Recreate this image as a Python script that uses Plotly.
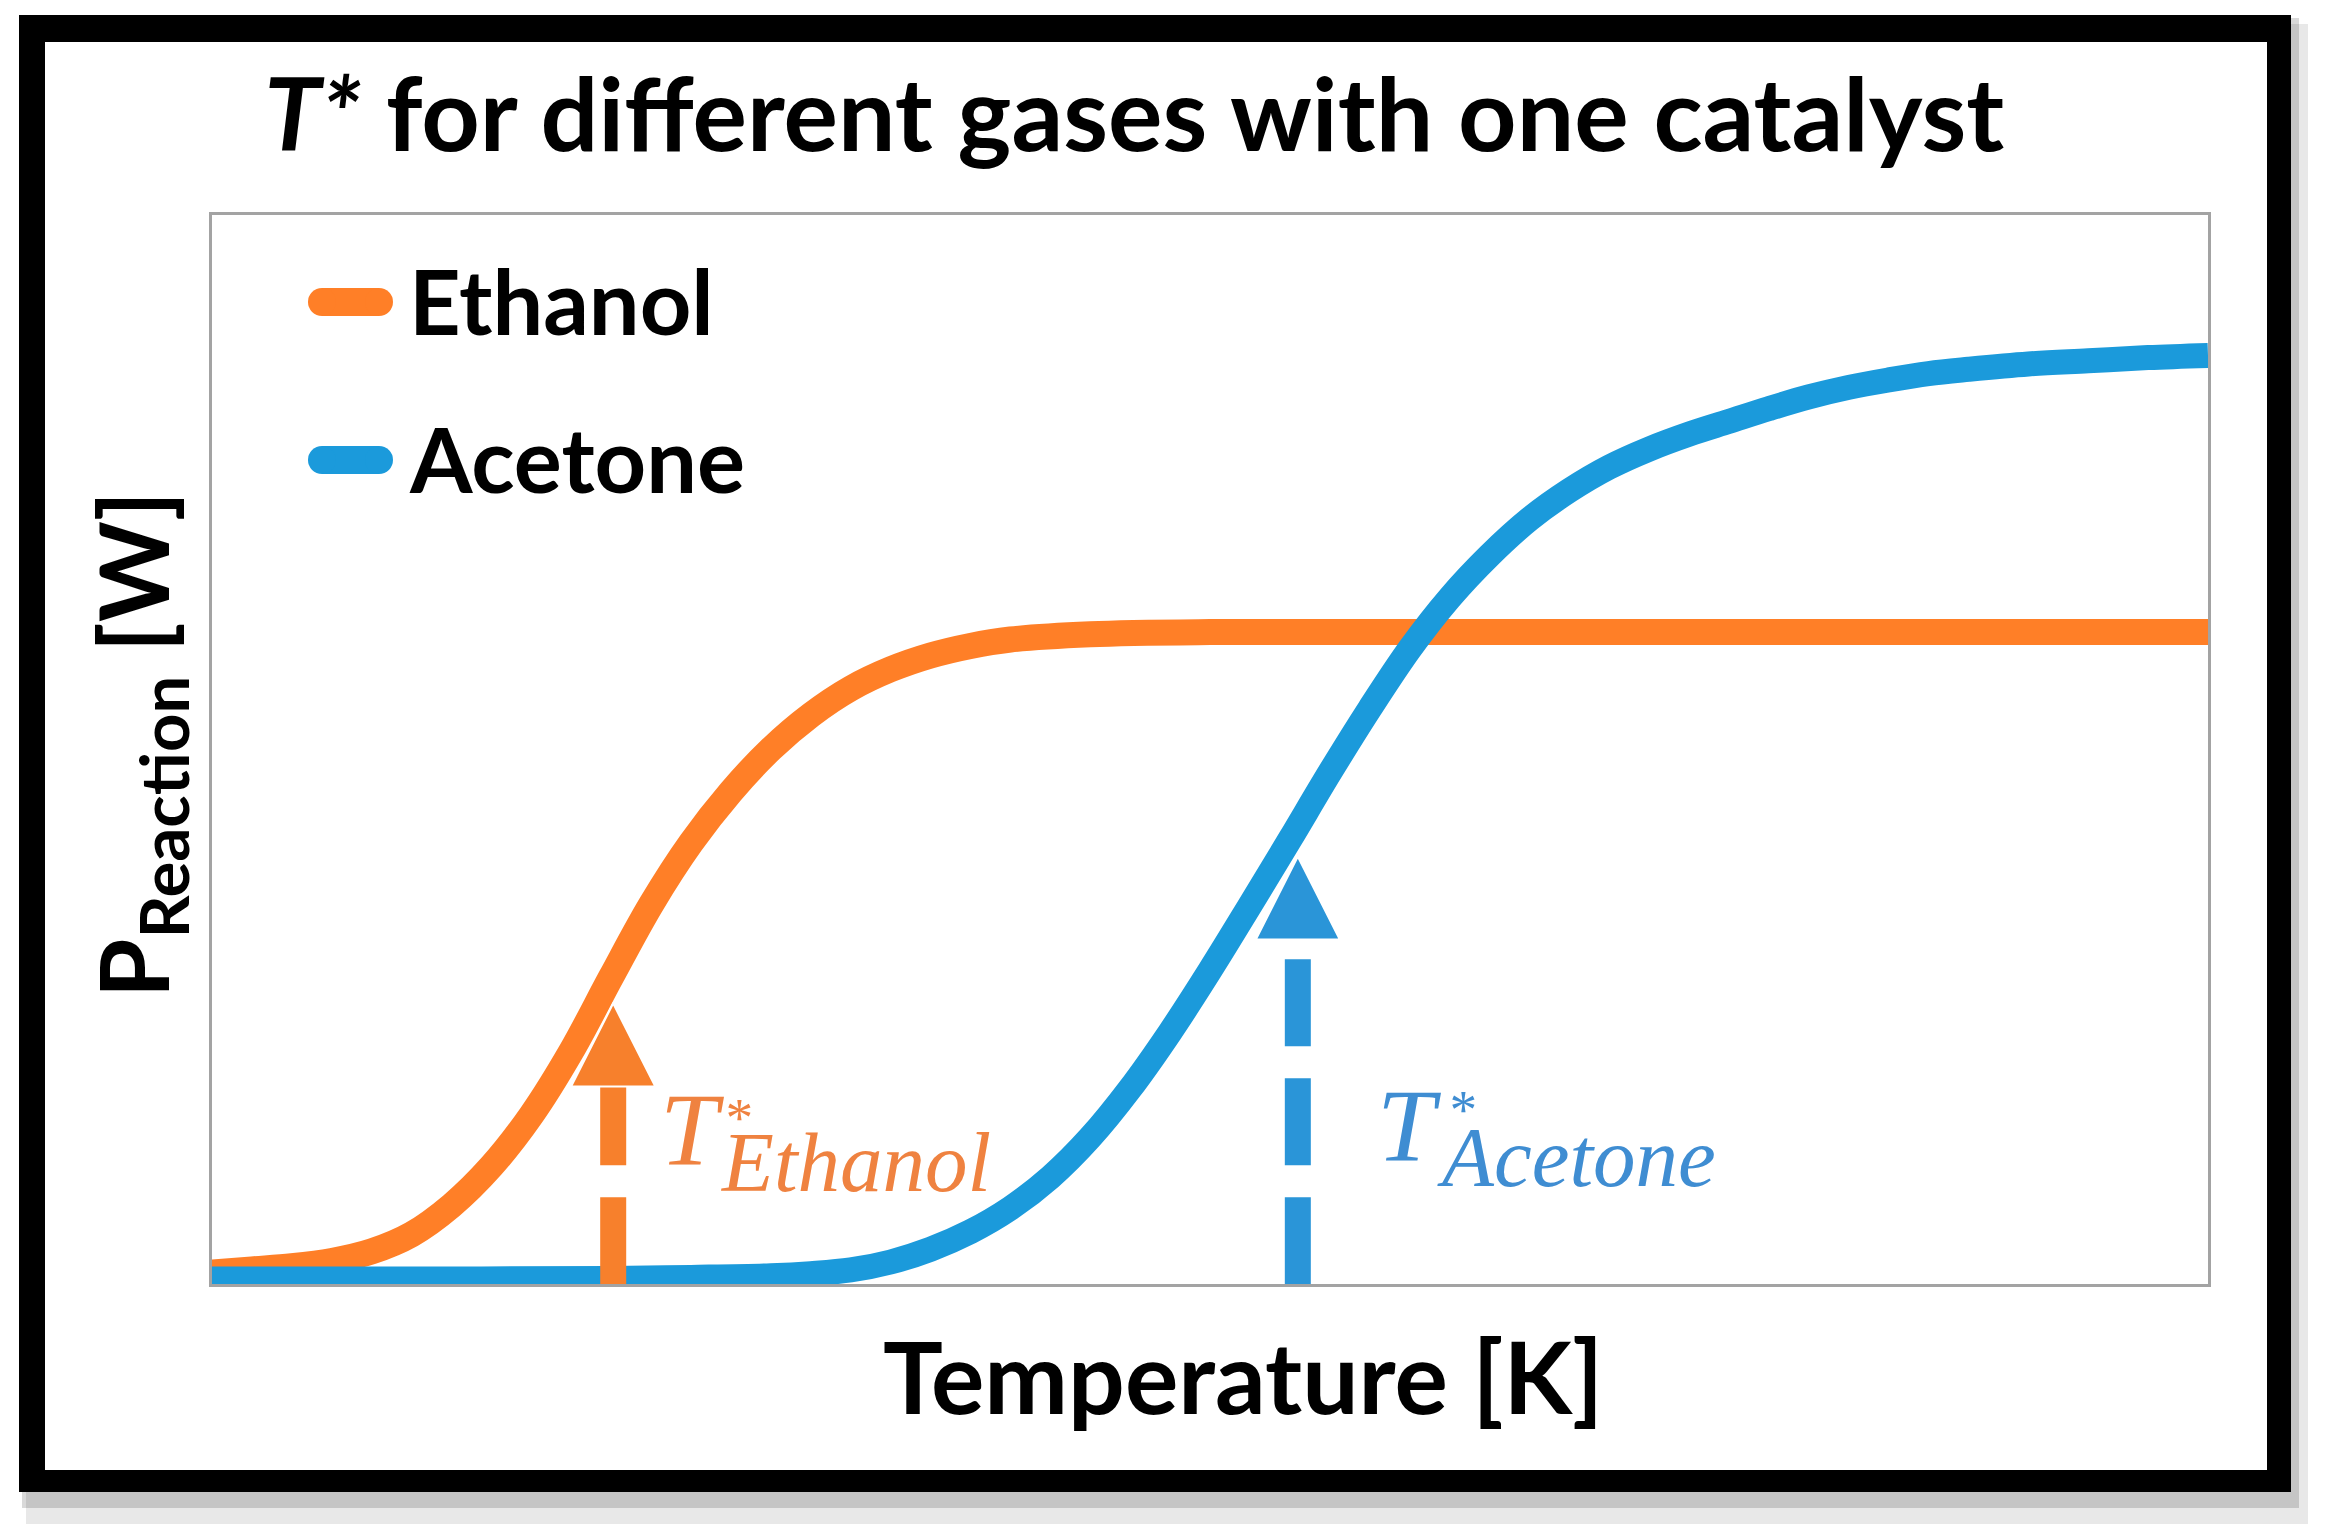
import plotly.graph_objects as go

# curve readings (temperature in arbitrary units 0-100, power in % of plot height)
temp_ethanol = [0, 2, 4, 6, 8, 10, 12, 14, 16, 18, 20, 22, 24, 26, 28, 30, 32, 34, 36, 38, 40, 44, 50, 60, 100]
p_ethanol = [0.6, 0.9, 1.2, 1.7, 2.6, 4.2, 6.9, 10.6, 15.4, 21.4, 28.4, 35.2, 41.0, 45.8, 49.8, 53.0, 55.5, 57.3,
             58.6, 59.5, 60.1, 60.6, 60.8, 60.8, 60.8]

temp_acetone = [0, 10, 20, 24, 28, 30, 32, 34, 36, 38, 40, 42, 44, 46, 48, 50, 52, 54, 56, 58, 60, 62, 64, 66,
                68, 70, 72, 74, 76, 78, 80, 82, 84, 86, 88, 91, 94, 97, 100]
p_acetone = [0, 0, 0.05, 0.15, 0.3, 0.5, 0.85, 1.6, 2.8, 4.45, 6.65, 9.55, 13.3, 17.9, 23.2, 29.0, 35.1, 41.3,
             47.6, 53.6, 59.2, 64.0, 68.0, 71.4, 74.1, 76.3, 78.0, 79.4, 80.6, 81.8, 82.9, 83.8, 84.5, 85.1, 85.5,
             86.0, 86.3, 86.6, 86.8]

gases = ['Ethanol', 'Acetone']
t_star = [20.1, 54.4]       # x of the T* arrows
head_base = [18.1, 31.9]
head_tip = [25.9, 39.7]
shaft_top = [18.1, 30.1]

orange = '#FF7F27'
blue = '#1B9ADB'
arrow_col = ['#F7802C', '#2A95D8']
label_col = ['#EF8240', '#3F8DD2']

# plot area in screen pixels (page has an 8px body margin)
OFF = 8
L, R, T, B = 212, 2208, 215, 1284
def px(X):
    return (X - L) / (R - L)
def py(Y):
    return (B - Y) / (B - T)

fig = go.Figure()
fig.add_trace(go.Scatter(x=temp_ethanol, y=p_ethanol, mode='lines', name='Ethanol',
                         line=dict(color=orange, width=26, shape='spline', smoothing=1.0)))
fig.add_trace(go.Scatter(x=temp_acetone, y=p_acetone, mode='lines', name='Acetone',
                         line=dict(color=blue, width=25, shape='spline', smoothing=1.0)))

shapes = []
# frame with drop shadow
shapes.append(dict(type='rect', xref='paper', yref='paper', x0=px(26), x1=px(2308), y0=py(24), y1=py(1524),
                   fillcolor='rgba(0,0,0,0.09)', line_width=0, layer='below'))
shapes.append(dict(type='rect', xref='paper', yref='paper', x0=px(22), x1=px(2299), y0=py(18), y1=py(1508),
                   fillcolor='rgba(0,0,0,0.15)', line_width=0, layer='below'))
shapes.append(dict(type='rect', xref='paper', yref='paper', x0=px(19), x1=px(2291), y0=py(15), y1=py(1492),
                   fillcolor='black', line_width=0, layer='below'))
shapes.append(dict(type='rect', xref='paper', yref='paper', x0=px(45), x1=px(2267), y0=py(42), y1=py(1470),
                   fillcolor='white', line_width=0, layer='below'))

# T* arrows
hw = 42 / ((R - L) / 100)
for i in range(2):
    shapes.append(dict(type='line', xref='x', yref='y', x0=t_star[i], x1=t_star[i], y0=-0.5, y1=shaft_top[i],
                       line=dict(color=arrow_col[i], width=26, dash='87px,32px')))
    shapes.append(dict(type='path', xref='x', yref='y',
                       path=f'M {t_star[i]-hw},{head_base[i]} L {t_star[i]+hw},{head_base[i]} L {t_star[i]},{head_tip[i]} Z',
                       fillcolor=arrow_col[i], line=dict(color='white', width=2)))

# legend swatches
legend_y = [302, 460]
leg_col = [orange, blue]
for i in range(2):
    shapes.append(dict(type='line', xref='paper', yref='paper', x0=px(322), x1=px(379), y0=py(legend_y[i]), y1=py(legend_y[i]),
                       line=dict(color=leg_col[i], width=28)))
    for cx in (322, 379):
        shapes.append(dict(type='circle', xref='paper', yref='paper', x0=px(cx - 14), x1=px(cx + 14),
                           y0=py(legend_y[i] + 14), y1=py(legend_y[i] - 14), fillcolor=leg_col[i], line_width=0))

ann = []
sans = 'Lato'
for i, g in enumerate(gases):
    ann.append(dict(xref='paper', yref='paper', x=px(407), y=py(legend_y[i] - 2), xanchor='left', yanchor='middle',
                    text=g, showarrow=False, font=dict(family=sans, size=90, color='black', weight='bold')))

# T* labels next to the arrows
t_shift = [45, 77]
star_shift = [108, 147]
sub_shift = [106, 137]
for i, g in enumerate(gases):
    ann.append(dict(xref='x', yref='y', x=t_star[i], y=0, xshift=t_shift[i], yshift=[90, 94][i],
                    xanchor='left', yanchor='bottom', showarrow=False, text='<i>T</i>',
                    font=dict(family='Liberation Serif', size=104, color=label_col[i])))
    ann.append(dict(xref='x', yref='y', x=t_star[i], y=0, xshift=star_shift[i], yshift=[129, 137][i],
                    xanchor='left', yanchor='bottom', showarrow=False, text='<i>*</i>',
                    font=dict(family='Liberation Serif', size=55, color=label_col[i])))
    ann.append(dict(xref='x', yref='y', x=t_star[i], y=0, xshift=sub_shift[i], yshift=[68, 73][i],
                    xanchor='left', yanchor='bottom', showarrow=False, text=f'<i>{g}</i>',
                    font=dict(family='Liberation Serif', size=85, color=label_col[i])))

# title and axis titles
ann.append(dict(xref='paper', yref='paper', x=px(1134), y=py(111), xanchor='center', yanchor='middle', showarrow=False,
                text='<i>T*</i> for different gases with one catalyst',
                font=dict(family=sans, size=102, color='black', weight='bold')))
ann.append(dict(xref='paper', yref='paper', x=px(1243), y=py(1375), xanchor='center', yanchor='middle', showarrow=False,
                text='Temperature [K]', font=dict(family=sans, size=100, color='black', weight='bold')))
ann.append(dict(xref='paper', yref='paper', x=px(138), y=py(745), xanchor='center', yanchor='middle', showarrow=False,
                textangle=-90, text='P<sub>Reaction</sub> [W]',
                font=dict(family=sans, size=96, color='black', weight='bold')))

fig.update_layout(width=2328 - OFF, height=1530 - OFF,
                  margin=dict(l=L - OFF, r=2328 - R, t=T - OFF, b=1530 - B),
                  paper_bgcolor='white', plot_bgcolor='rgba(0,0,0,0)', showlegend=False,
                  shapes=shapes, annotations=ann)
fig.update_xaxes(range=[0, 100], showticklabels=False, showgrid=False, zeroline=False, ticks='',
                 showline=True, mirror=True, linecolor='#a3a3a3', linewidth=3)
fig.update_yaxes(range=[-0.47, 100], showticklabels=False, showgrid=False, zeroline=False, ticks='',
                 showline=True, mirror=True, linecolor='#a3a3a3', linewidth=3)
fig.write_html('out.html')
